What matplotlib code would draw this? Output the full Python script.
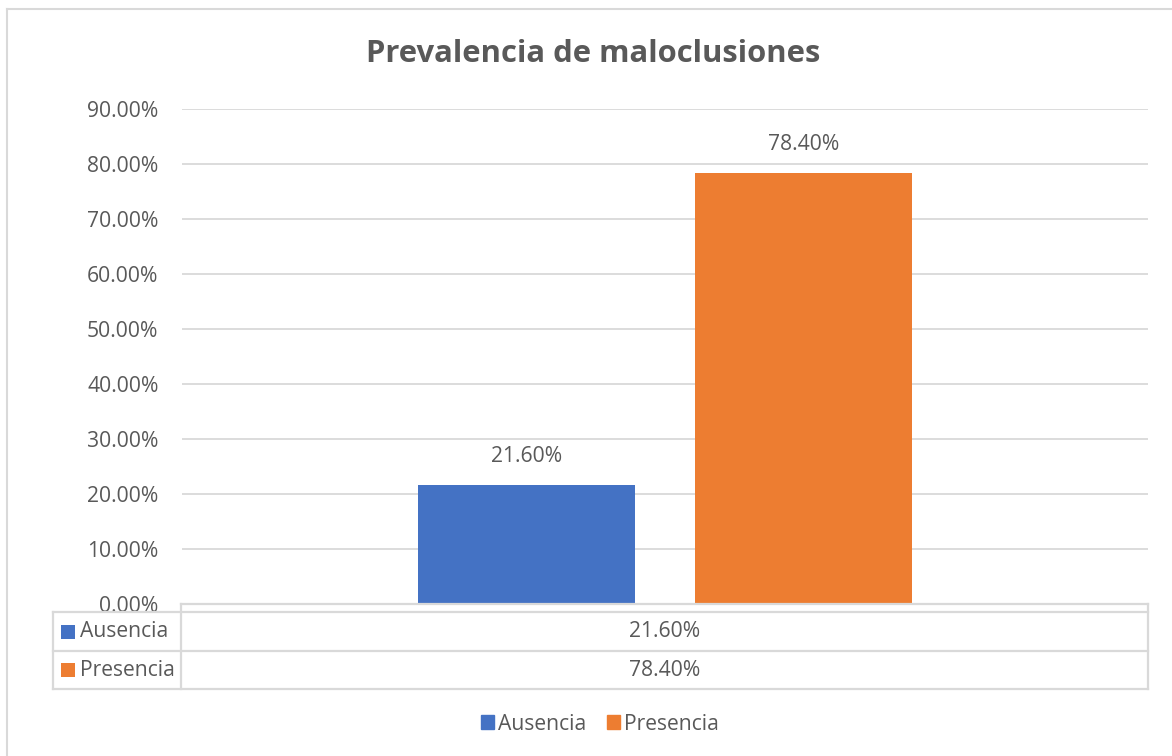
import matplotlib
matplotlib.use("Agg")
import matplotlib.pyplot as plt
from matplotlib.lines import Line2D
from matplotlib.patches import Patch, Rectangle

plt.rcParams['font.family'] = ['Open Sans', 'DejaVu Sans']

title = "Prevalencia de maloclusiones"
series = ["Ausencia", "Presencia"]
values = [0.216, 0.784]
colors = ["#4472C4", "#ED7D31"]
yticks = [0.0, 0.1, 0.2, 0.3, 0.4, 0.5, 0.6, 0.7, 0.8, 0.9]

TXT = "#595959"
GRID = "#D9D9D9"
FS = 15.2
W, H = 1172, 756
fig = plt.figure(figsize=(W / 100, H / 100), dpi=100)

def fx(px):
    return px / W

def fy(py):
    return 1 - py / H

# outer chart border
fig.add_artist(Line2D([fx(7), fx(7)], [fy(9), 0], color=GRID, lw=1.5))
fig.add_artist(Line2D([fx(7), 1], [fy(9), fy(9)], color=GRID, lw=1.5))

left, right, top, bottom = 182, 1148, 109, 604
ax = fig.add_axes([fx(left), fy(bottom), fx(right - left), (bottom - top) / H])
ax.set_xlim(-0.5, 0.5)
ax.set_ylim(0, 0.9)
for s in ax.spines.values():
    s.set_visible(False)
ax.set_yticks(yticks)
ax.set_yticklabels([f"{v*100:.2f}%" for v in yticks], color=TXT, fontsize=FS)
ax.tick_params(axis='y', length=0, pad=17)
ax.set_xticks([])
ax.grid(axis='y', color=GRID, lw=1.3)
ax.set_axisbelow(True)

width = 0.2246
offsets = [-0.143, 0.143]
for name, v, c, o in zip(series, values, colors, offsets):
    ax.bar(o, v, width=width, color=c, zorder=3)
    ax.annotate(f"{v*100:.2f}%", (o, v), xytext=(0, 13), textcoords="offset points",
                ha="center", va="bottom", color=TXT, fontsize=FS)

fig.text(fx(593), fy(54), title, ha="center", va="center", fontsize=22.3,
         fontweight="bold", color=TXT)

# data table
tl, tc, tr = 53, 181, 1148
rows_y = [612, 651, 689]
lw = 1.6
fig.add_artist(Line2D([fx(tc), fx(tr)], [fy(604), fy(604)], color=GRID, lw=lw))
for y in rows_y:
    fig.add_artist(Line2D([fx(tl), fx(tr)], [fy(y), fy(y)], color=GRID, lw=lw))
fig.add_artist(Line2D([fx(tl), fx(tl)], [fy(612), fy(689)], color=GRID, lw=lw))
fig.add_artist(Line2D([fx(tc), fx(tc)], [fy(604), fy(689)], color=GRID, lw=lw))
fig.add_artist(Line2D([fx(tr), fx(tr)], [fy(604), fy(689)], color=GRID, lw=lw))
for i, (name, v, c) in enumerate(zip(series, values, colors)):
    yc = (rows_y[i] + rows_y[i + 1]) / 2
    fig.add_artist(Rectangle((fx(61), fy(yc + 7)), fx(14), 14 / H, facecolor=c,
                             edgecolor="none", transform=fig.transFigure))
    fig.text(fx(80), fy(yc), name, color=TXT, fontsize=FS, ha="left", va="center")
    fig.text(fx((tc + tr) / 2), fy(yc), f"{v*100:.2f}%", color=TXT, fontsize=FS,
             ha="center", va="center")

handles = [Patch(facecolor=c, edgecolor=c) for c in colors]
fig.legend(handles, series, loc="center", bbox_to_anchor=(fx(600), fy(724)), ncol=2,
           frameon=False, fontsize=FS, labelcolor=TXT, handlelength=0.6,
           handleheight=0.6, handletextpad=0.2, columnspacing=1.0)

fig.savefig("out.png", dpi=100, facecolor="white")
